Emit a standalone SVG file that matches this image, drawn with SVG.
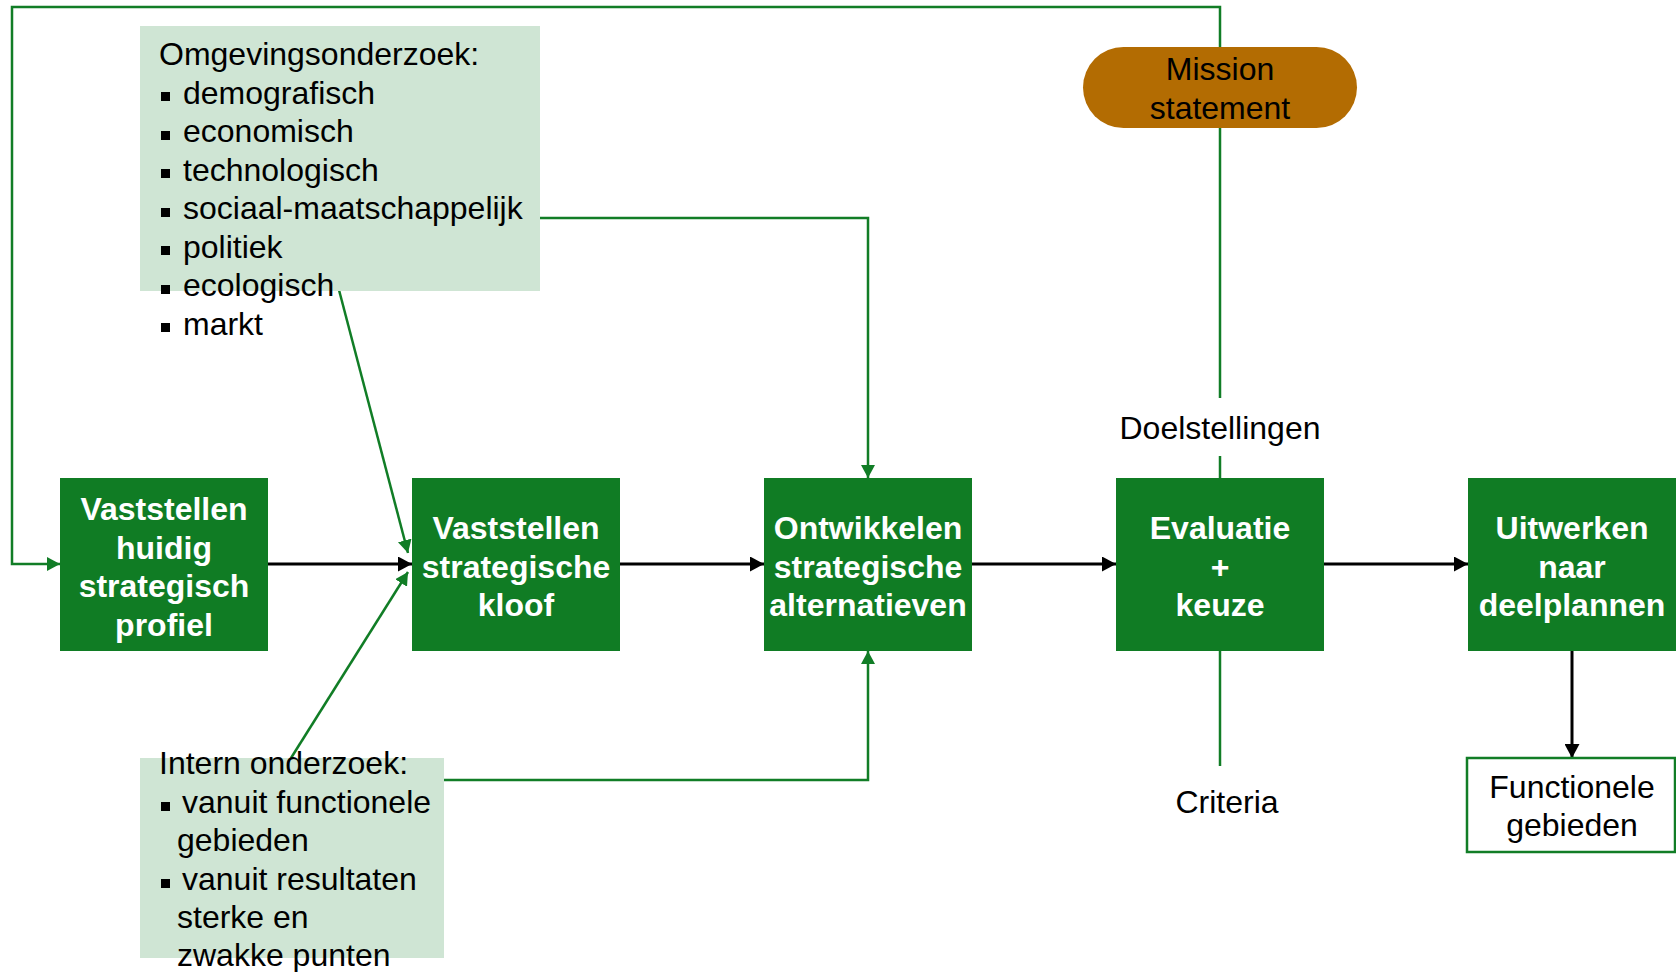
<svg xmlns="http://www.w3.org/2000/svg" width="1676" height="972" viewBox="0 0 1676 972">
  <style>
    .step { fill: #107c24; }
    .step-label { font-family: "Liberation Sans", Arial, sans-serif; font-size: 32px; font-weight: bold; fill: #ffffff; text-anchor: middle; }
    .label { font-family: "Liberation Sans", Arial, sans-serif; font-size: 32px; fill: #000000; }
    .center { text-anchor: middle; }
    .note { fill: #cfe5d4; }
    .bullet { fill: #000000; }
    .green { fill: none; stroke: #117d26; stroke-width: 2.5; }
    .black { fill: none; stroke: #000000; stroke-width: 3; }
  </style>
  <defs>
    <marker id="arrow-black" markerUnits="userSpaceOnUse" markerWidth="15" markerHeight="15" refX="14" refY="7.5" orient="auto">
      <path d="M0,0 L14,7.5 L0,15 z" fill="#000000"/>
    </marker>
    <marker id="arrow-green" markerUnits="userSpaceOnUse" markerWidth="14" markerHeight="14" refX="13" refY="7" orient="auto">
      <path d="M0,0 L13,7 L0,14 z" fill="#117d26"/>
    </marker>
  </defs>

  <rect width="1676" height="972" fill="#ffffff"/>

  <g id="connectors">
    <!-- feedback loop from the mission statement back to the current profile -->
    <path class="green" d="M1220,47 L1220,7 L12,7 L12,564 L60,564" marker-end="url(#arrow-green)"/>
    <!-- mission statement down to goals, goals down to evaluation -->
    <path class="green" d="M1220,128 L1220,398"/>
    <path class="green" d="M1220,456 L1220,478"/>
    <!-- evaluation down to criteria -->
    <path class="green" d="M1220,651 L1220,766"/>
    <!-- environment analysis inputs -->
    <path class="green" d="M540,218 L868,218 L868,478" marker-end="url(#arrow-green)"/>
    <path class="green" d="M339,290 L408,553" marker-end="url(#arrow-green)"/>
    <!-- internal analysis inputs -->
    <path class="green" d="M291,758 L408,572" marker-end="url(#arrow-green)"/>
    <path class="green" d="M443,780 L868,780 L868,651" marker-end="url(#arrow-green)"/>
    <!-- main process chain -->
    <path class="black" d="M268,564 L412,564" marker-end="url(#arrow-black)"/>
    <path class="black" d="M620,564 L764,564" marker-end="url(#arrow-black)"/>
    <path class="black" d="M972,564 L1116,564" marker-end="url(#arrow-black)"/>
    <path class="black" d="M1324,564 L1468,564" marker-end="url(#arrow-black)"/>
    <path class="black" d="M1572,651 L1572,758" marker-end="url(#arrow-black)"/>
  </g>

  <g id="omgevingsonderzoek">
    <rect class="note" x="140" y="26" width="400" height="265"/>
    <text class="label" x="159" y="65">Omgevingsonderzoek:</text>
    <rect class="bullet" x="161" y="92" width="9" height="9"/>
    <text class="label" x="183" y="103.5">demografisch</text>
    <rect class="bullet" x="161" y="131" width="9" height="9"/>
    <text class="label" x="183" y="142">economisch</text>
    <rect class="bullet" x="161" y="169" width="9" height="9"/>
    <text class="label" x="183" y="180.5">technologisch</text>
    <rect class="bullet" x="161" y="208" width="9" height="9"/>
    <text class="label" x="183" y="219">sociaal-maatschappelijk</text>
    <rect class="bullet" x="161" y="246" width="9" height="9"/>
    <text class="label" x="183" y="257.5">politiek</text>
    <rect class="bullet" x="161" y="285" width="9" height="9"/>
    <text class="label" x="183" y="296">ecologisch</text>
    <rect class="bullet" x="161" y="323" width="9" height="9"/>
    <text class="label" x="183" y="334.5">markt</text>
  </g>

  <g id="intern-onderzoek">
    <rect class="note" x="140" y="758" width="304" height="200"/>
    <text class="label" x="159" y="774">Intern onderzoek:</text>
    <rect class="bullet" x="161" y="802" width="9" height="9"/>
    <text class="label" x="182" y="813">vanuit functionele</text>
    <text class="label" x="177" y="851">gebieden</text>
    <rect class="bullet" x="161" y="879" width="9" height="9"/>
    <text class="label" x="182" y="890">vanuit resultaten</text>
    <text class="label" x="177" y="928">sterke en</text>
    <text class="label" x="177" y="966">zwakke punten</text>
  </g>

  <g id="mission-statement">
    <rect x="1083" y="47" width="274" height="81" rx="40.5" ry="40.5" fill="#b36c02"/>
    <text class="label center" x="1220" y="80">Mission</text>
    <text class="label center" x="1220" y="119">statement</text>
  </g>

  <g id="doelstellingen">
    <text class="label center" x="1220" y="439">Doelstellingen</text>
  </g>

  <g id="criteria">
    <text class="label center" x="1227" y="813">Criteria</text>
  </g>

  <g id="huidig-profiel">
    <rect class="step" x="60" y="478" width="208" height="173"/>
    <text class="step-label" x="164" y="520">Vaststellen</text>
    <text class="step-label" x="164" y="558.5">huidig</text>
    <text class="step-label" x="164" y="597">strategisch</text>
    <text class="step-label" x="164" y="635.5">profiel</text>
  </g>

  <g id="strategische-kloof">
    <rect class="step" x="412" y="478" width="208" height="173"/>
    <text class="step-label" x="516" y="539">Vaststellen</text>
    <text class="step-label" x="516" y="578">strategische</text>
    <text class="step-label" x="516" y="616">kloof</text>
  </g>

  <g id="alternatieven">
    <rect class="step" x="764" y="478" width="208" height="173"/>
    <text class="step-label" x="868" y="539">Ontwikkelen</text>
    <text class="step-label" x="868" y="578">strategische</text>
    <text class="step-label" x="868" y="616">alternatieven</text>
  </g>

  <g id="evaluatie-keuze">
    <rect class="step" x="1116" y="478" width="208" height="173"/>
    <text class="step-label" x="1220" y="539">Evaluatie</text>
    <text class="step-label" x="1220" y="578">+</text>
    <text class="step-label" x="1220" y="616">keuze</text>
  </g>

  <g id="deelplannen">
    <rect class="step" x="1468" y="478" width="208" height="173"/>
    <text class="step-label" x="1572" y="539">Uitwerken</text>
    <text class="step-label" x="1572" y="578">naar</text>
    <text class="step-label" x="1572" y="616">deelplannen</text>
  </g>

  <g id="functionele-gebieden">
    <rect x="1467" y="758" width="208" height="94" fill="#ffffff" stroke="#117d26" stroke-width="2.5"/>
    <text class="label center" x="1572" y="798">Functionele</text>
    <text class="label center" x="1572" y="836">gebieden</text>
  </g>
</svg>
